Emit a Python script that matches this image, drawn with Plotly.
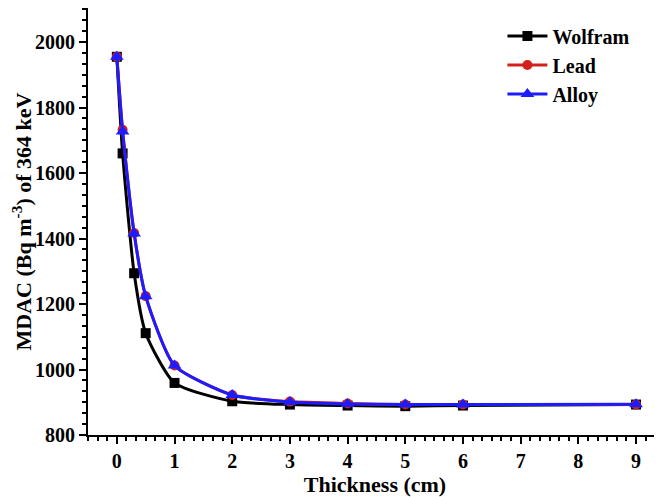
import plotly.graph_objects as go

# thickness (cm)
thickness = [0, 0.1, 0.3, 0.5, 1, 2, 3, 4, 5, 6, 9]

# MDAC values (Bq m^-3)
wolfram = [1955, 1660, 1294, 1111, 959, 903, 893, 890, 888, 890, 893]
lead = [1955, 1732, 1417, 1224, 1012, 922, 902, 896, 893, 893, 893]
alloy = [1955, 1727, 1415, 1224, 1012, 922, 901, 895, 893, 893, 894]

x_ticks = [0, 1, 2, 3, 4, 5, 6, 7, 8, 9]

FONT = "Liberation Serif"

fig = go.Figure()

series = [
    ("Wolfram", wolfram, "black", "square", 10),
    ("Lead", lead, "#d4201c", "circle", 10),
    ("Alloy", alloy, "#1c1cff", "triangle-up", 12),
]
for name, vals, col, sym, sz in series:
    fig.add_trace(go.Scatter(
        x=thickness, y=vals, name=name, mode="lines+markers",
        line=dict(color=col, width=3, shape="spline", smoothing=0.6),
        marker=dict(symbol=sym, size=sz, color=col),
    ))

axis_common = dict(
    showline=True, linecolor="black", linewidth=2,
    ticks="outside", ticklen=7, tickwidth=2, tickcolor="black",
    showgrid=False, zeroline=False, automargin=False,
    tickfont=dict(family=FONT, size=20, color="black", weight="bold"),
    minor=dict(ticks="outside", ticklen=4, tickwidth=1.5, tickcolor="black"),
)

fig.update_xaxes(
    range=[-0.5, 9.45], tickvals=x_ticks, ticktext=[str(t) for t in x_ticks],
    minor_dtick=1/6, minor_tick0=0,
    title=dict(text="<b>Thickness (cm)</b>", font=dict(family=FONT, size=22, color="black"), standoff=3),
    **axis_common,
)
fig.update_yaxes(
    range=[800, 2104], dtick=200, tick0=800,
    minor_dtick=200/6, minor_tick0=800, ticklabelstandoff=0,
    title=dict(text="<b>MDAC (Bq m<sup>-3</sup>) of 364 keV</b>", font=dict(family=FONT, size=22, color="black"), standoff=8),
    **axis_common,
)

# page is drawn with an 8px body offset, so the figure is sized to the visible area
fig.update_layout(
    width=654, height=489,
    margin=dict(l=80, r=0, t=0, b=62),
    plot_bgcolor="white", paper_bgcolor="white",
    legend=dict(
        x=0.722, y=0.980, xanchor="left", yanchor="top",
        font=dict(family=FONT, size=20, color="black", weight="bold"),
        bgcolor="rgba(0,0,0,0)", itemwidth=40, tracegroupgap=0,
    ),
)

fig.write_html("out.html")
